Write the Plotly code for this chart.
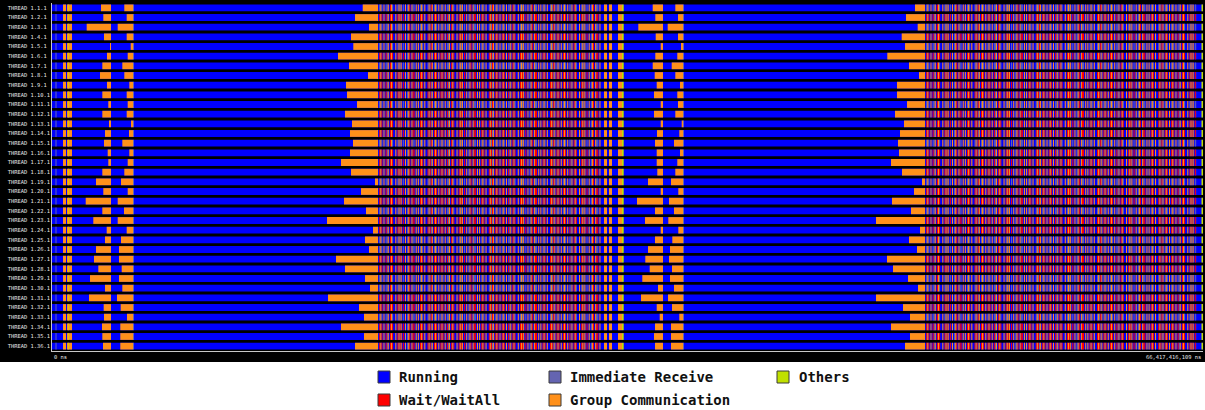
import plotly.graph_objects as go

# ---------------------------------------------------------------- trace data
T_END_MS = 66417.416109          # total trace duration in ms
START_LABEL = "0 ns"
END_LABEL = "66,417,416,109 ns"

THREADS = [f"THREAD 1.{i}.1" for i in range(1, 37)]

STATE_NAMES = {
    "R": "Running",
    "W": "Wait/WaitAll",
    "I": "Immediate Receive",
    "G": "Group Communication",
    "O": "Others",
}
STATE_COLORS = {
    "R": "rgb(0,0,255)",
    "W": "rgb(255,0,0)",
    "I": "rgb(100,100,177)",
    "G": "rgb(255,144,26)",
    "O": "rgb(192,224,0)",
}

# entry time (ms) of each thread into the six blocking collectives
COLL1_START = [2827, 2960, 2002, 3001, 3347, 3174, 2903, 2770, 3174, 2903, 3249, 2903,
               3289, 3058, 3001, 3214, 3249, 2903, 2539, 2960, 1945, 2903, 2383, 3156,
               3058, 2539, 2424, 2672, 2193, 3058, 2135, 2983, 3001, 2885, 2903, 2943]
COLL2_START = [4172, 4310, 3791, 4310, 4541, 4368, 4057, 4172, 4461, 4310, 4368, 4310,
               4559, 4443, 4057, 4461, 4368, 4172, 3982, 4368, 3791, 4155, 3791, 4310,
               3982, 3866, 3866, 4022, 3866, 4057, 3751, 3964, 4328, 3941, 3941, 3941]
COLL3_START = [17929, 17484, 18292, 17253, 17386, 16503, 17138, 18234, 16965, 17023, 17600, 16907,
               17311, 17196, 17369, 17196, 16676, 17253, 18638, 17831, 16850, 18119, 15869, 18523,
               18061, 18292, 16388, 16907, 18061, 18350, 15926, 17715, 18004, 16676, 18004, 17484]
COLL4_START = [34663, 34813, 33832, 34836, 35124, 34813, 34663, 34778, 34894, 34738, 35124, 34738,
               35124, 34911, 34796, 34894, 34894, 34928, 34392, 35124, 33757, 34796, 34218, 35124,
               34796, 34392, 34236, 34490, 34063, 34969, 33988, 34894, 35067, 34796, 34738, 34796]
COLL5_START = [35967, 36123, 35528, 36123, 36296, 36082, 35759, 35967, 36238, 36082, 36123, 35967,
               36336, 36198, 35892, 36238, 36082, 35967, 35719, 36140, 35603, 35892, 35563, 36140,
               35794, 35661, 35603, 35776, 35661, 35892, 35546, 35776, 36198, 35719, 35719, 35719]
COLL6_START = [49799, 49279, 49954, 49031, 49222, 48200, 49452, 50029, 48760, 48760, 49337, 48644,
               49164, 48933, 48818, 48875, 48414, 49048, 50202, 49741, 48471, 49568, 47548, 50087,
               49452, 49914, 48183, 48529, 49395, 49972, 47548, 49106, 49510, 48414, 49510, 49222]
# common exit time (ms) of each collective
COLL_END = [3405, 4674, 18754, 35257, 36411, 50318]

# point-to-point exchange phases (start ms, end ms)
EXCHANGE_PHASES = [(18754, 31679), (50318, 66072)]

# short events seen on every thread: (state, start ms, end ms)
COMMON_EVENTS = [
    ("I", 202, 260), ("G", 635, 808), ("G", 866, 1154), ("O", 923, 964),
    ("I", 4674, 4732),
    ("G", 31852, 32025), ("G", 32141, 32314), ("G", 32660, 32891), ("O", 32891, 32989),
    ("I", 36411, 36469),
    ("O", 66330, 66417),
]

# state sequence repeated inside an exchange phase, one code per 62 ms slot
SLOT_MS = 62.0
PATTERN_A = ("GRI" "GIR" "GRII" "GRW" "GIRR" "GRI" "GI" "GRIR" "GRI"
             "GWR" "GIIR" "GR" "GRI" "GIR" "GRRI" "GIW" "GRI" "GIR")
PATTERN_B = ("GRW" "GWR" "GRWI" "GRW" "GWRR" "GRW" "GW" "GRWR" "GRI"
             "GWR" "GWWR" "GR" "GRW" "GWR" "GRRW" "GWI" "GRW" "GWR")
ROW_PATTERN = "ABABABABBBAB" "BBABBBABBABB" "AABBAABBABBB"

# ---------------------------------------------------------------- segments
segments = {k: {"y": [], "base": [], "x": []} for k in STATE_NAMES}


def add(state, row, t0, t1):
    if t1 <= t0:
        return
    seg = segments[state]
    seg["y"].append(row)
    seg["base"].append(t0)
    seg["x"].append(t1 - t0)


coll_starts = [COLL1_START, COLL2_START, COLL3_START, COLL4_START, COLL5_START, COLL6_START]

for r in range(len(THREADS)):
    add("R", r, 0, T_END_MS)
    for state, t0, t1 in COMMON_EVENTS:
        add(state, r, t0, t1)
    for starts, end in zip(coll_starts, COLL_END):
        add("G", r, starts[r], end)
    pattern = PATTERN_A if ROW_PATTERN[r] == "A" else PATTERN_B
    for p0, p1 in EXCHANGE_PHASES:
        k = 0
        while p0 + k * SLOT_MS < p1:
            state = pattern[k % len(pattern)]
            t0 = p0 + k * SLOT_MS
            if state != "R":
                add(state, r, t0, min(t0 + SLOT_MS, p1))
            k += 1

fig = go.Figure()
for code in ["R", "I", "W", "G", "O"]:
    seg = segments[code]
    fig.add_trace(go.Bar(
        orientation="h",
        y=seg["y"], base=seg["base"], x=seg["x"],
        width=0.7,
        marker=dict(color=STATE_COLORS[code], line=dict(width=0)),
        name=STATE_NAMES[code],
        showlegend=False,
        hoverinfo="skip",
    ))

# ---------------------------------------------------------------- layout
W, H = 1205, 410
PL, PR, PT, PB = 52, 1203, 3, 351


def px(x):
    return (x - PL) / (PR - PL)


def py(y):
    return (PB - y) / (PB - PT)


# row labels in a fixed-width font, left edges aligned
width = max(len(t) for t in THREADS)
ticktext = [t + "\u00a0" * (width - len(t)) for t in THREADS]

shapes = [
    # light legend band under the timeline
    dict(type="rect", xref="paper", yref="paper", layer="below",
         x0=px(0), x1=px(W), y0=py(H), y1=py(362),
         fillcolor="white", line=dict(width=0)),
]
annotations = [
    dict(text=START_LABEL, xref="x", x=0, yref="paper", y=py(357), xanchor="left",
         yanchor="middle", showarrow=False,
         font=dict(family="DejaVu Sans Mono", size=5.4, color="#e6e6e6")),
    dict(text=END_LABEL, xref="x", x=T_END_MS, yref="paper", y=py(357), xanchor="right",
         yanchor="middle", showarrow=False,
         font=dict(family="DejaVu Sans Mono", size=5.4, color="#e6e6e6")),
]

legend_items = [("R", 0, 0), ("W", 0, 1), ("I", 1, 0), ("G", 1, 1), ("O", 2, 0)]
col_sq = [378, 549, 777]
col_txt = [397, 568, 797]
row_y = [377, 400]
for code, c, rr in legend_items:
    yc = row_y[rr]
    shapes.append(dict(type="rect", xref="paper", yref="paper",
                       x0=px(col_sq[c]), x1=px(col_sq[c] + 12),
                       y0=py(yc + 6), y1=py(yc - 6),
                       fillcolor=STATE_COLORS[code], line=dict(color="#3a3a3a", width=1)))
    annotations.append(dict(text=STATE_NAMES[code], xref="paper", yref="paper",
                            x=px(col_txt[c]), y=py(yc), xanchor="left", yanchor="middle",
                            showarrow=False,
                            font=dict(family="DejaVu Sans Mono", size=14, weight="bold",
                                      color="#111111")))

fig.update_layout(
    width=W, height=H,
    margin=dict(l=PL, r=W - PR, t=PT, b=H - PB, pad=0),
    paper_bgcolor="black",
    plot_bgcolor="black",
    barmode="overlay",
    showlegend=False,
    shapes=shapes,
    annotations=annotations,
    xaxis=dict(range=[0, T_END_MS], showgrid=False, zeroline=False, showticklabels=False,
               ticks="", showline=True, linecolor="#c8c8c8", linewidth=1),
    yaxis=dict(range=[len(THREADS) - 0.5, -0.5], tickmode="array",
               tickvals=list(range(len(THREADS))), ticktext=ticktext,
               tickfont=dict(family="DejaVu Sans Mono", size=5.4, color="#e6e6e6"),
               showgrid=False, zeroline=False, ticks="", showline=True,
               linecolor="#c8c8c8", linewidth=1),
)

fig.write_html("out.html", config={"staticPlot": True})
